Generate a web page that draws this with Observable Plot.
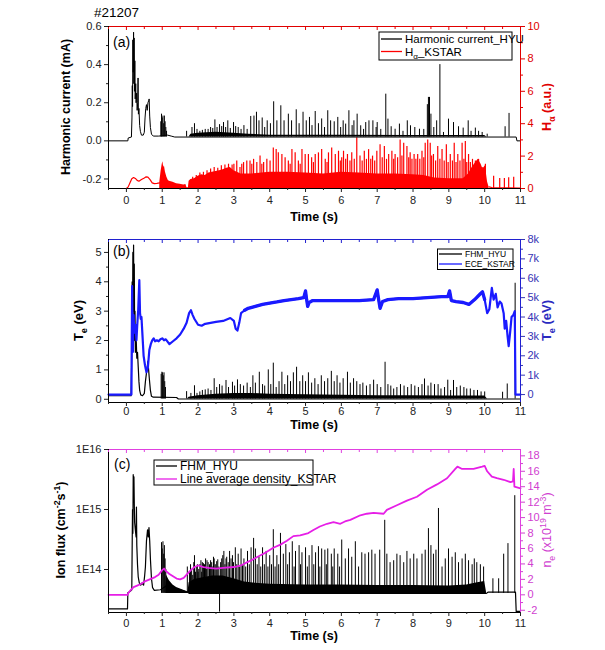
<!DOCTYPE html>
<html><head><meta charset="utf-8">
<script src="https://cdn.jsdelivr.net/npm/d3@7"></script>
<script src="https://cdn.jsdelivr.net/npm/@observablehq/plot@0.6"></script>
<style>
body{margin:0;background:#fff;}
#chart{position:relative;width:605px;height:650px;overflow:hidden;background:#fff;}
#chart svg{display:block;}
</style></head><body><div id="chart"></div>
<script>
const FONT = '"Liberation Sans", Arial, Helvetica, sans-serif';

// ---------- shared x axis ----------
const X_DOMAIN = [-0.5, 11];
const xTicks = [0,1,2,3,4,5,6,7,8,9,10,11];
const xTickLabels = ["0","1","2","3","4","5","6","7","8","9","10","11"];
const xMinor = [-0.5,0.5,1.5,2.5,3.5,4.5,5.5,6.5,7.5,8.5,9.5,10.5];

// ---------- panel (a) ----------
const A_Y = [-0.25, 0.6];             // harmonic current (mA)
const A_R = [0, 10];                  // H-alpha (a.u.)
const ampTicks = [-0.2, 0, 0.2, 0.4, 0.6];
const ampTickLabels = ["-0.2", "0.0", "0.2", "0.4", "0.6"];
const ampMinor = [-0.1, 0.1, 0.3, 0.5];
const haTicks = [0, 2, 4, 6, 8, 10];
const haTickLabels = ["0", "2", "4", "6", "8", "10"];
const haMinor = [1, 3, 5, 7, 9];
const HC_BASE = 0.02;
const hcLine = [[-0.5,0],[0.04,0],[0.05,0.015],[0.14,0.02],[0.155,0.12],[0.165,0.29],[0.172,0.18],[0.18,0.53],[0.19,0.36],[0.2,0.57],[0.208,0.3],[0.215,0.54],[0.225,0.26],[0.235,0.42],[0.245,0.22],[0.26,0.3],[0.27,0.2],[0.285,0.25],[0.3,0.16],[0.315,0.2],[0.325,0.33],[0.335,0.14],[0.35,0.17],[0.37,0.08],[0.39,0.05],[0.42,0.03],[0.47,0.03],[0.5,0.045],[0.52,0.12],[0.54,0.17],[0.56,0.19],[0.58,0.16],[0.6,0.2],[0.62,0.21],[0.635,0.22],[0.65,0.13],[0.67,0.07],[0.7,0.035],[0.75,0.025],[0.9,0.025],[1.15,0.03],[1.25,0.025],[1.35,0.02],[10.88,0.02],[10.9,0],[11,0]];
const hcFill = [[1.75,0.02],[1.8,0.035],[2.0,0.04],[2.5,0.045],[3.0,0.04],[3.4,0.035],[4.0,0.03],[6.0,0.03],[8.0,0.028],[10.0,0.028],[10.06,0.02]];
const hcSpikes = [[0.96,0.1],[0.98,0.14],[1.0,0.12],[1.02,0.13],[1.04,0.09],[1.06,0.13],[1.08,0.1],[1.1,0.07],[1.12,0.05],
[1.68,0.05],[1.83,0.07],[1.9,0.09],[1.97,0.06],[2.05,0.05],[2.12,0.055],[2.2,0.06],[2.28,0.06],[2.35,0.07],[2.41,0.065],[2.47,0.11],[2.53,0.07],[2.6,0.085],[2.66,0.075],[2.71,0.096],[2.77,0.07],[2.83,0.105],[2.9,0.065],[2.99,0.096],[3.05,0.075],[3.12,0.07],[3.2,0.06],[3.28,0.08],[3.37,0.06],[3.47,0.128],[3.56,0.13],[3.63,0.15],[3.7,0.105],[3.79,0.12],[3.86,0.07],[3.93,0.105],[4.02,0.09],[4.11,0.205],[4.2,0.105],[4.31,0.184],[4.4,0.105],[4.52,0.14],[4.61,0.105],[4.74,0.163],[4.82,0.09],[4.93,0.15],[5.02,0.105],[5.11,0.123],[5.18,0.08],[5.27,0.154],[5.36,0.09],[5.45,0.115],[5.53,0.07],[5.62,0.158],[5.7,0.105],[5.8,0.1],[5.9,0.123],[5.98,0.07],[6.05,0.105],[6.12,0.088],[6.21,0.158],[6.3,0.08],[6.35,0.105],[6.44,0.14],[6.54,0.079],[6.62,0.06],[6.68,0.096],[6.77,0.105],[6.88,0.105],[6.97,0.07],[7.0,0.096],[7.1,0.06],[7.24,0.245],[7.3,0.114],[7.39,0.074],[7.5,0.061],[7.62,0.088],[7.72,0.05],[7.84,0.105],[7.93,0.079],[8.05,0.07],[8.18,0.061],[8.3,0.06],[8.4,0.19],[8.43,0.228],[8.46,0.228],[8.5,0.14],[8.58,0.07],[8.66,0.105],[8.75,0.40],[8.85,0.044],[8.99,0.114],[9.13,0.096],[9.27,0.074],[9.4,0.067],[9.54,0.105],[9.62,0.05],[9.74,0.067],[9.83,0.05],[9.93,0.044],[10.07,0.035],[10.57,0.074],[10.68,0.144]];
const haLineEarly = [[-0.5,0],[0.0,0],[0.05,0.1],[0.1,0.35],[0.15,0.6],[0.2,0.68],[0.25,0.62],[0.3,0.5],[0.35,0.45],[0.42,0.55],[0.5,0.65],[0.55,0.72],[0.6,0.7],[0.66,0.55],[0.72,0.35],[0.78,0.3],[0.85,0.32],[0.93,0.35]];
const haLineTail = [[10.12,0.1],[10.2,0.06],[10.5,0.04],[11,0.03]];
const haFill = [[0.93,0.35],[0.97,1.1],[1.0,1.5],[1.02,1.65],[1.04,1.3],[1.06,1.4],[1.09,1.0],[1.13,0.7],[1.17,0.5],[1.2,0.45],[1.3,0.38],[1.4,0.3],[1.5,0.26],[1.6,0.22],[1.66,0.25],[1.69,0.05],[1.73,0.05],[1.75,0.45],[1.8,0.55],[1.9,0.6],[2.0,0.75],[2.1,0.85],[2.2,0.8],[2.3,0.95],[2.4,1.0],[2.5,1.05],[2.6,1.1],[2.7,1.15],[2.8,1.25],[2.9,1.3],[3.0,1.1],[3.2,0.9],[3.5,0.9],[4.0,1.0],[4.5,1.0],[5.0,0.95],[5.5,0.9],[6.0,1.0],[6.5,0.95],[7.0,0.9],[7.5,0.9],[8.0,0.85],[8.3,0.8],[8.6,0.65],[9.0,0.6],[9.4,0.6],[9.55,0.9],[9.65,1.3],[9.75,1.6],[9.82,1.8],[9.9,1.5],[9.95,1.2],[10.02,1.4],[10.08,0.4],[10.12,0.1]];
const haSpikes = [[1.85,0.7],[1.95,0.8],[2.05,0.95],[2.15,1.0],[2.25,1.1],[2.35,1.2],[2.45,1.3],[2.55,1.25],[2.65,1.4],[2.75,1.45],[2.85,1.5],[2.95,1.45],[3.0,1.5],[3.08,1.7],[3.17,1.3],[3.22,1.5],[3.27,1.6],[3.36,1.7],[3.45,1.7],[3.5,1.5],[3.55,1.8],[3.64,1.6],[3.73,2.0],[3.78,1.5],[3.83,1.6],[3.92,1.8],[4.01,1.7],[4.1,2.5],[4.18,2.4],[4.24,2.2],[4.34,2.1],[4.43,1.9],[4.52,1.7],[4.57,1.5],[4.62,2.4],[4.71,2.2],[4.8,1.7],[4.85,1.5],[4.9,2.4],[4.99,2.1],[5.08,2.1],[5.17,1.9],[5.22,1.6],[5.27,2.1],[5.36,2.2],[5.45,2.4],[5.55,1.8],[5.6,1.6],[5.64,2.2],[5.73,2.5],[5.83,2.1],[5.92,2.3],[5.97,1.7],[6.01,1.9],[6.06,2.3],[6.12,1.8],[6.17,2.1],[6.24,1.7],[6.29,2.2],[6.36,1.8],[6.43,3.13],[6.52,2.0],[6.58,1.7],[6.64,2.3],[6.7,1.8],[6.76,2.4],[6.82,1.8],[6.87,2.0],[6.93,1.7],[6.99,2.3],[7.08,2.7],[7.14,1.9],[7.2,2.6],[7.26,1.8],[7.32,2.1],[7.41,2.3],[7.46,1.8],[7.5,2.1],[7.57,1.9],[7.64,3.0],[7.69,2.0],[7.74,2.8],[7.83,2.6],[7.88,1.9],[7.92,2.2],[7.97,1.8],[8.03,2.1],[8.08,1.8],[8.13,2.1],[8.19,1.8],[8.25,2.3],[8.3,1.9],[8.34,2.8],[8.41,3.0],[8.48,2.8],[8.52,2.0],[8.57,2.1],[8.63,1.7],[8.69,2.6],[8.75,1.8],[8.81,2.4],[8.87,1.7],[8.93,2.7],[8.98,1.6],[9.04,2.1],[9.1,1.7],[9.15,2.8],[9.2,1.6],[9.25,2.1],[9.31,1.7],[9.37,2.8],[9.42,1.8],[9.46,2.9],[9.5,1.6],[9.55,2.1],[9.6,1.6],[9.66,1.8],[9.74,1.7],[9.83,1.8],[9.93,1.3],[10.02,1.5],[10.25,0.76],[10.42,0.62],[10.55,0.62],[10.67,0.66],[10.81,0.7]];

// ---------- panel (b) ----------
const B_Y = [-0.11, 5.44];            // Te FHM (eV)
const B_R = [-0.41, 8];               // Te ECE (keV)
const teTicks = [0,1,2,3,4,5];
const teTickLabels = ["0","1","2","3","4","5"];
const teMinor = [0.5,1.5,2.5,3.5,4.5];
const eceTicks = [0,1,2,3,4,5,6,7,8];
const eceTickLabels = ["0","1k","2k","3k","4k","5k","6k","7k","8k"];
const eceMinor = [0.5,1.5,2.5,3.5,4.5,5.5,6.5,7.5];
const FHM_BASE = 0.01;
const fhmLine = [[-0.5,0.12],[0.13,0.12],[0.15,1.5],[0.16,4.0],[0.17,2.5],[0.18,5.0],[0.19,3.0],[0.2,5.25],[0.21,2.8],[0.22,4.6],[0.23,2.0],[0.24,3.0],[0.25,1.6],[0.27,2.2],[0.29,1.4],[0.31,1.6],[0.33,1.1],[0.35,0.6],[0.37,0.3],[0.4,0.15],[0.45,0.12],[0.5,0.2],[0.53,0.6],[0.56,0.9],[0.58,1.1],[0.6,1.3],[0.62,1.0],[0.64,0.7],[0.67,0.3],[0.7,0.1],[0.75,0.07],[1.4,0.06],[1.45,0.01],[10.9,0.01],[11,0.01]];
const fhmFill = [[1.7,0.01],[1.75,0.07],[2.0,0.12],[2.5,0.17],[3.0,0.2],[3.5,0.2],[4.0,0.17],[5.0,0.15],[6.0,0.14],[7.0,0.12],[8.0,0.12],[9.0,0.11],[10.0,0.11],[10.08,0.01]];
const fhmSpikes = [[0.97,0.85],[0.99,0.92],[1.01,0.9],[1.03,0.8],[1.05,0.9],[1.07,0.6],[1.09,0.4],
[1.68,0.26],[1.8,0.2],[1.9,0.46],[1.97,0.2],[2.05,0.25],[2.12,0.3],[2.2,0.32],[2.28,0.35],[2.36,0.3],[2.45,0.7],[2.52,0.4],[2.6,0.5],[2.67,0.45],[2.78,0.64],[2.85,0.4],[2.96,0.58],[3.02,0.45],[3.1,0.66],[3.18,0.5],[3.27,0.45],[3.37,0.55],[3.46,0.4],[3.53,0.8],[3.6,0.55],[3.71,0.92],[3.8,0.5],[3.86,0.45],[3.96,1.0],[4.03,0.5],[4.1,1.23],[4.18,0.4],[4.26,0.6],[4.34,0.92],[4.42,0.5],[4.5,0.8],[4.58,0.6],[4.66,0.9],[4.75,1.09],[4.84,0.6],[4.92,0.8],[5.0,0.6],[5.08,0.9],[5.17,0.55],[5.26,0.7],[5.35,0.5],[5.44,0.8],[5.53,0.6],[5.62,0.7],[5.72,0.95],[5.8,0.6],[5.88,0.8],[5.96,0.55],[6.05,0.7],[6.17,0.92],[6.25,0.55],[6.34,0.7],[6.43,0.6],[6.52,0.5],[6.6,0.55],[6.7,0.45],[6.8,0.5],[6.9,0.65],[7.0,0.5],[7.1,0.4],[7.22,1.26],[7.3,0.5],[7.38,0.45],[7.46,0.35],[7.55,0.4],[7.65,0.5],[7.75,0.45],[7.85,0.4],[7.95,0.5],[8.05,0.45],[8.15,0.4],[8.25,0.5],[8.32,0.69],[8.42,0.45],[8.5,0.55],[8.6,0.5],[8.7,0.5],[8.78,0.35],[8.88,0.4],[8.97,0.65],[9.05,0.3],[9.13,0.64],[9.22,0.4],[9.32,0.45],[9.42,0.4],[9.5,0.35],[9.6,0.35],[9.7,0.3],[9.8,0.3],[9.9,0.25],[10.0,0.25],[10.5,0.24],[10.63,0.52],[10.85,3.95]];
const eceLine = [[-0.5,0],[0.14,0],[0.15,3.0],[0.16,5.6],[0.17,3.5],[0.18,2.2],[0.2,4.1],[0.22,3.2],[0.25,3.6],[0.28,2.8],[0.3,3.5],[0.33,4.4],[0.36,5.9],[0.38,4.2],[0.4,3.9],[0.42,4.0],[0.45,3.0],[0.48,2.0],[0.52,1.5],[0.56,1.15],[0.6,1.4],[0.64,2.3],[0.68,2.6],[0.72,2.8],[0.76,2.9],[0.8,2.75],[0.85,2.8],[0.9,2.75],[0.95,2.85],[1.0,2.9],[1.05,2.8],[1.1,2.85],[1.2,2.6],[1.3,2.75],[1.4,2.9],[1.5,3.1],[1.6,3.4],[1.68,3.7],[1.75,4.2],[1.8,4.35],[1.85,4.1],[1.9,3.9],[2.0,3.6],[2.1,3.55],[2.2,3.65],[2.35,3.7],[2.5,3.75],[2.7,3.8],[2.9,3.95],[3.0,3.8],[3.05,3.4],[3.1,3.3],[3.15,3.7],[3.2,4.2],[3.3,4.35],[3.4,4.45],[3.6,4.55],[3.8,4.65],[4.0,4.72],[4.2,4.78],[4.4,4.85],[4.6,4.9],[4.8,4.95],[4.95,5.0],[5.0,5.35],[5.03,4.9],[5.06,4.55],[5.1,4.75],[5.2,4.85],[5.5,4.85],[6.0,4.85],[6.5,4.85],[6.9,4.9],[7.0,5.4],[7.04,4.9],[7.08,4.45],[7.15,4.8],[7.3,4.9],[7.6,4.95],[8.0,4.95],[8.4,5.0],[8.8,5.05],[8.97,5.05],[9.02,5.35],[9.07,4.85],[9.2,4.8],[9.4,4.75],[9.56,4.65],[9.72,4.9],[9.88,5.2],[9.94,5.3],[10.0,4.9],[10.07,4.2],[10.13,4.4],[10.2,5.5],[10.25,4.9],[10.31,5.2],[10.36,4.5],[10.42,4.8],[10.47,4.7],[10.53,4.2],[10.56,3.4],[10.6,3.8],[10.64,3.0],[10.67,2.5],[10.71,3.2],[10.75,4.0],[10.8,4.1],[10.84,4.3],[10.86,0],[11,0]];

// ---------- panel (c) ----------
const C_Y = [1.92e13, 1e16];          // ion flux (log axis)
const C_R = [-2.29, 18.82];           // ne (1e19 m^-3)
const fluxTicks = [1e14, 1e15, 1e16];
const fluxTickLabels = ["1E14", "1E15", "1E16"];
const neTicks = [-2,0,2,4,6,8,10,12,14,16,18];
const neTickLabels = ["-2","0","2","4","6","8","10","12","14","16","18"];
const neMinor = [-1,1,3,5,7,9,11,13,15,17];
const FLUX_BASE = 4e13;
const fluxLine = [[-0.5,2.2e13],[0.03,2.2e13],[0.04,4.1e13],[0.1,4.3e13],[0.15,4.6e13],[0.17,1e15],[0.18,4e14],[0.19,3.8e15],[0.2,2.5e15],[0.21,3.5e15],[0.22,1.2e15],[0.23,6e14],[0.25,4.5e14],[0.27,3.5e14],[0.28,1.1e15],[0.29,2.5e14],[0.31,1.2e14],[0.33,7.5e13],[0.36,6e13],[0.4,5.5e13],[0.44,6e13],[0.48,5.5e13],[0.51,8e13],[0.53,1.1e14],[0.56,3e14],[0.59,4.6e14],[0.61,3.5e14],[0.63,5e14],[0.65,3e14],[0.67,1.5e14],[0.7,7e13],[0.73,5e13],[0.78,4.5e13],[0.95,4.6e13],[1.15,5.5e13],[1.3,5e13],[1.5,4.6e13],[1.7,4.2e13],[1.75,4e13],[10.05,4e13],[10.1,4.2e13],[10.86,4.2e13],[10.88,2e13],[11,2e13]];
const fluxFill = [[1.1,5e13],[1.12,8e13],[1.2,6.5e13],[1.3,5.5e13],[1.4,5e13],[1.72,4.2e13],[1.75,6e13],[1.9,6.8e13],[2.1,7.2e13],[2.4,7.8e13],[2.7,7.8e13],[3.0,7e13],[3.3,6.2e13],[3.6,5.9e13],[4.0,5.7e13],[5.0,5.5e13],[6.0,5.5e13],[7.0,5.4e13],[8.0,5.4e13],[9.0,5.3e13],[9.5,5.5e13],[9.8,6e13],[10.0,6.3e13],[10.05,4.2e13]];
const fluxSpikes = [[0.98,2.8e14],[1.0,2.2e14],[1.02,2.9e14],[1.04,1.8e14],[1.06,2.5e14],[1.08,1.5e14],[1.1,1e14],
[1.7,1.1e14],[1.76,9e13],[1.79,1.2e14],[1.82,1.0e14],[1.85,8e13],[1.88,1.3e14],[1.9,1.7e14],[1.93,9e13],[1.95,1.1e14],[1.98,1.2e14],[2.0,9e13],[2.02,1.0e14],[2.05,1.2e14],[2.08,1.4e14],[2.1,9e13],[2.12,1.3e14],[2.15,1.25e14],[2.18,1.2e14],[2.21,1.5e14],[2.23,1e14],[2.25,1.4e14],[2.28,1.3e14],[2.32,1.2e14],[2.35,1.4e14],[2.38,1.3e14],[2.41,1.1e14],[2.43,1.6e14],[2.45,1.5e14],[2.48,1.2e14],[2.52,1.35e14],[2.55,1.45e14],[2.58,1.1e14],[2.6,1.95e13],[2.63,1.3e14],[2.66,1.5e14],[2.69,1.7e14],[2.72,2e14],[2.75,1.2e14],[2.78,1.5e14],[2.8,1.6e14],[2.84,1.3e14],[2.88,2e14],[2.92,1.5e14],[2.96,1.7e14],[2.99,1.3e14],[3.04,2.3e14],[3.08,1.2e14],[3.12,1.8e14],[3.16,1.1e14],[3.2,2.2e14],[3.24,1.2e14],[3.28,1.5e14],[3.33,1.1e14],[3.38,2.0e14],[3.43,1.2e14],[3.48,2.3e14],[3.55,3.3e14],[3.6,2.2e14],[3.65,1.2e14],[3.7,1.6e14],[3.75,1.1e14],[3.8,2.3e14],[3.85,1.2e14],[3.9,2e14],[3.95,1.1e14],[4.0,1.7e14],[4.05,1.2e14],[4.1,4.6e14],[4.15,1.1e14],[4.2,1.7e14],[4.25,1.2e14],[4.3,4e14],[4.38,1.8e14],[4.45,2.6e14],[4.5,1.2e14],[4.55,1.9e14],[4.63,2.9e14],[4.68,1.1e14],[4.72,2e14],[4.82,2.5e14],[4.86,1.2e14],[4.9,1.9e14],[5.0,2.3e14],[5.05,1.1e14],[5.1,1.7e14],[5.18,2.5e14],[5.23,1.2e14],[5.28,1.9e14],[5.36,2.4e14],[5.4,1.1e14],[5.45,2.2e14],[5.54,2.1e14],[5.58,1.2e14],[5.62,2.2e14],[5.72,1.8e14],[5.76,1.1e14],[5.8,2.2e14],[5.9,1.8e14],[5.95,1.1e14],
[6.01,3.1e14],[6.11,1.5e14],[6.2,2.2e14],[6.29,1.6e14],[6.39,2.9e14],[6.48,1.1e14],[6.57,1.9e14],[6.66,1.8e14],[6.76,1.9e14],[6.85,2.1e14],[6.94,1.8e14],[7.07,2.1e14],[7.21,6.6e14],[7.27,1.8e14],[7.36,1.3e14],[7.46,1.4e14],[7.55,1.8e14],[7.64,1.7e14],[7.74,1.3e14],[7.83,2e14],[7.92,1.5e14],[8.02,1.8e14],[8.11,1.5e14],[8.25,1.8e14],[8.34,2.1e14],[8.43,4.8e14],[8.5,2.5e14],[8.57,1.8e14],[8.64,2.1e14],[8.71,1.04e15],[8.81,1.1e14],[8.9,1.5e14],[8.99,2.2e14],[9.09,1.6e14],[9.18,1.9e14],[9.27,1.3e14],[9.37,1.5e14],[9.46,1.8e14],[9.55,1.4e14],[9.65,1.2e14],[9.71,1.5e14],[9.78,1.3e14],[9.88,1.2e14],[9.97,1.1e14],[10.23,7e13],[10.39,7e13],[10.53,1.8e14],[10.65,2.7e14],[10.84,1.7e15]];
const neLine = [[-0.5,0],[0.03,0],[0.05,0.2],[0.1,0.5],[0.2,1.0],[0.3,1.2],[0.4,1.4],[0.5,1.7],[0.6,1.9],[0.7,2.1],[0.8,2.3],[0.9,2.6],[1.0,3.2],[1.05,3.4],[1.1,3.1],[1.2,2.7],[1.3,2.4],[1.4,2.1],[1.5,2.0],[1.6,2.2],[1.7,2.7],[1.8,3.2],[1.9,3.6],[2.0,3.8],[2.15,3.6],[2.3,3.5],[2.5,3.4],[2.7,3.5],[3.0,3.6],[3.2,3.8],[3.36,4.2],[3.5,4.5],[3.73,5.1],[3.9,5.5],[4.1,6.1],[4.3,6.5],[4.48,7.0],[4.66,7.6],[4.85,7.7],[5.08,8.0],[5.22,8.4],[5.4,8.85],[5.6,9.2],[5.78,9.4],[5.97,9.2],[6.1,9.5],[6.25,9.7],[6.53,10.3],[6.71,10.5],[6.9,10.6],[7.18,10.5],[7.27,11.0],[7.55,11.6],[7.83,12.2],[8.11,12.7],[8.39,13.6],[8.67,14.3],[8.95,15.1],[9.18,16.3],[9.24,16.6],[9.37,16.3],[9.69,16.3],[9.93,16.6],[10.0,16.7],[10.07,16.0],[10.2,15.3],[10.34,15.1],[10.53,14.9],[10.72,14.6],[10.79,14.7],[10.81,16.3],[10.83,14.0],[11,13.8]];

// ---------- helpers ----------
const lin = (D, R) => v => D[0] + (v - R[0]) / (R[1] - R[0]) * (D[1] - D[0]);
const L10 = Math.log10;
const C_LOG = [L10(C_Y[0]), L10(C_Y[1])];   // panel (c) plotted as log10 on a linear scale
const aMap = lin(A_Y, A_R), bMap = lin(B_Y, B_R), cMap = lin(C_LOG, C_R);
const lookup = (vals, labels) => d => { const i = vals.findIndex(v => Math.abs(v - d) < 1e-7); return i < 0 ? "" : labels[i]; };

function frame(yDom, color, pad = 3) {
  return [
    Plot.ruleY([yDom[1]], {stroke: color, strokeWidth: 1}),
    Plot.ruleX([X_DOMAIN[1]], {stroke: color, strokeWidth: 1}),
    Plot.ruleX([X_DOMAIN[0]], {stroke: "#000", strokeWidth: 1}),
    Plot.ruleY([yDom[0]], {stroke: "#000", strokeWidth: 1}),
    Plot.axisX(xTicks, {anchor: "bottom", tickSize: 4, tickPadding: pad, tickFormat: lookup(xTicks, xTickLabels), label: null, color: "#222"}),
    Plot.axisX(xMinor, {anchor: "bottom", tickSize: 2, tickFormat: () => "", label: null, color: "#222"}),
    Plot.axisX(xTicks, {anchor: "top", tickSize: -3, tickFormat: () => "", label: null, color}),
    Plot.axisX(xMinor, {anchor: "top", tickSize: -2, tickFormat: () => "", label: null, color})
  ];
}
function leftAxis(ticks, labels, minor) {
  const m = [Plot.axisY(ticks, {anchor: "left", tickSize: 4, tickPadding: 3, tickFormat: lookup(ticks, labels), label: null, color: "#222"})];
  if (minor) m.push(Plot.axisY(minor, {anchor: "left", tickSize: 2, tickFormat: () => "", label: null, color: "#222"}));
  return m;
}
function rightAxis(pos, labels, minorPos, color) {
  return [
    Plot.axisY(pos, {anchor: "right", tickSize: 4, tickPadding: 3, tickFormat: lookup(pos, labels), label: null, color}),
    Plot.axisY(minorPos, {anchor: "right", tickSize: 2, tickFormat: () => "", label: null, color})
  ];
}
function addParts(t, parts, size) {
  let shift = 0;
  for (const [s, kind] of parts) {
    const target = kind === "sub" ? size * 0.3 : kind === "sup" ? -size * 0.4 : 0;
    const ts = t.append("tspan").text(s).attr("dy", target - shift);
    if (kind) ts.attr("font-size", size * 0.7);
    shift = target;
  }
}
function rich(svg, x, y, parts, {size = 12, weight = "bold", fill = "#000", rotate = 0, anchor = "middle"} = {}) {
  const t = d3.select(svg).append("text")
    .attr("transform", `translate(${x},${y})` + (rotate ? ` rotate(${rotate})` : ""))
    .attr("text-anchor", anchor).attr("font-family", FONT).attr("font-size", size)
    .attr("font-weight", weight).attr("fill", fill);
  addParts(t, parts, size);
}
function legend(svg, x, y, w, h, rows, {size = 12, lineLen = 21, rowGap = 12.5, pad = 2, first = 7} = {}) {
  const g = d3.select(svg).append("g");
  g.append("rect").attr("x", x).attr("y", y).attr("width", w).attr("height", h).attr("fill", "#fff").attr("stroke", "#000").attr("stroke-width", 1);
  rows.forEach((r, i) => {
    const yy = y + first + i * rowGap;
    g.append("line").attr("x1", x + pad).attr("x2", x + pad + lineLen).attr("y1", yy).attr("y2", yy).attr("stroke", r.color).attr("stroke-width", 1.3);
    const t = g.append("text").attr("x", x + pad + lineLen + 3).attr("y", yy + size * 0.36)
      .attr("text-anchor", "start").attr("font-family", FONT).attr("font-size", size).attr("fill", "#000");
    addParts(t, r.parts, size);
  });
}
const XY = {x: d => d[0]};
const base = {width: 605, marginLeft: 108, marginRight: 85, x: {domain: X_DOMAIN, axis: null},
  style: {fontFamily: FONT, fontSize: "11px", background: "#fff", overflow: "visible"}};

const chart = document.getElementById("chart");

// ===== panel (a) =====
const RED = "#ff0000";
const svgA = Plot.plot({...base, height: 226, marginTop: 26, marginBottom: 38,
  y: {domain: A_Y, axis: null},
  marks: [
    Plot.areaY(haFill, {...XY, y1: aMap(0), y2: d => aMap(d[1]), fill: RED}),
    Plot.ruleX(haSpikes, {...XY, y1: aMap(0), y2: d => aMap(d[1]), stroke: RED, strokeWidth: 1.2}),
    Plot.line(haLineEarly, {...XY, y: d => aMap(d[1]), stroke: RED, strokeWidth: 1.2}),
    Plot.line(haLineTail, {...XY, y: d => aMap(d[1]), stroke: RED, strokeWidth: 1.2}),
    Plot.areaY(hcFill, {...XY, y1: HC_BASE, y2: d => d[1], fill: "#000"}),
    Plot.ruleX(hcSpikes, {...XY, y1: HC_BASE, y2: d => d[1], stroke: "#000", strokeWidth: 1}),
    Plot.line(hcLine, {...XY, y: d => d[1], stroke: "#000", strokeWidth: 1}),
    ...frame(A_Y, "#e00000", 4),
    ...leftAxis(ampTicks, ampTickLabels, ampMinor),
    ...rightAxis(haTicks.map(aMap), haTickLabels, haMinor.map(aMap), "#e00000")
  ]});
chart.appendChild(svgA);
rich(svgA, 94, 17, [["#21207"]], {size: 13.5, weight: "normal", anchor: "start"});
rich(svgA, 113, 47, [["(a)"]], {size: 14, weight: "normal", anchor: "start"});
rich(svgA, 70, 107, [["Harmonic current (mA)"]], {size: 12.5, rotate: -90});
rich(svgA, 551, 107, [["H"], ["\u03b1", "sub"], [" (a.u.)"]], {size: 12.5, rotate: -90, fill: "#e00000"});
rich(svgA, 314, 221, [["Time (s)"]], {size: 12.5});
legend(svgA, 379, 32, 133, 28, [
  {color: "#000", parts: [["Harmonic current_HYU"]]},
  {color: RED, parts: [["H"], ["\u03b1", "sub"], ["_KSTAR"]]}
], {size: 11.5, lineLen: 21, rowGap: 12.5, first: 7});

// ===== panel (b) =====
const BLUE = "#1a1aff";
const svgB = Plot.plot({...base, height: 206, marginTop: 13, marginBottom: 30,
  y: {domain: B_Y, axis: null},
  marks: [
    Plot.areaY(fhmFill, {...XY, y1: FHM_BASE, y2: d => d[1], fill: "#000"}),
    Plot.ruleX(fhmSpikes, {...XY, y1: FHM_BASE, y2: d => d[1], stroke: "#000", strokeWidth: 1}),
    Plot.line(fhmLine, {...XY, y: d => d[1], stroke: "#000", strokeWidth: 1.2}),
    Plot.line(eceLine, {...XY, y: d => bMap(d[1]), stroke: BLUE, strokeWidth: 2.2}),
    Plot.line(eceLine.filter(d => d[0] >= 3.25 && d[0] <= 10.0), {...XY, y: d => bMap(d[1]), stroke: BLUE, strokeWidth: 3.3}),
    ...frame(B_Y, "#2020d0", 1),
    ...leftAxis(teTicks, teTickLabels, teMinor),
    ...rightAxis(eceTicks.map(bMap), eceTickLabels, eceMinor.map(bMap), "#3535b5")
  ]});
chart.appendChild(svgB);
rich(svgB, 113, 30, [["(b)"]], {size: 14, weight: "normal", anchor: "start"});
rich(svgB, 83, 94.5, [["T"], ["e", "sub"], [" (eV)"]], {size: 13, rotate: -90});
rich(svgB, 551, 94.5, [["T"], ["e", "sub"], [" (eV)"]], {size: 13, rotate: -90, fill: "#2a2ac0"});
rich(svgB, 314, 203, [["Time (s)"]], {size: 12.5});
legend(svgB, 437.5, 23, 75.5, 20.5, [
  {color: "#000", parts: [["FHM_HYU"]]},
  {color: BLUE, parts: [["ECE_KSTAR"]]}
], {size: 8.5, lineLen: 23, rowGap: 10, first: 5, pad: 1.5});

// ===== panel (c) =====
const MAG = "#e61ee6";
const svgC = Plot.plot({...base, height: 218, marginTop: 17, marginBottom: 38,
  y: {domain: C_LOG, axis: null},
  marks: [
    Plot.areaY(fluxFill, {...XY, y1: L10(FLUX_BASE), y2: d => L10(d[1]), fill: "#000"}),
    Plot.ruleX(fluxSpikes, {...XY, y1: L10(FLUX_BASE), y2: d => L10(d[1]), stroke: "#000", strokeWidth: 1}),
    Plot.line(fluxLine, {...XY, y: d => L10(d[1]), stroke: "#000", strokeWidth: 1.2}),
    Plot.line(neLine, {...XY, y: d => cMap(d[1]), stroke: MAG, strokeWidth: 1.8}),
    ...frame(C_LOG, "#e040e0", 3),
    ...leftAxis(fluxTicks.map(L10), fluxTickLabels, null),
    ...rightAxis(neTicks.map(cMap), neTickLabels, neMinor.map(cMap), "#d040d0")
  ]});
chart.appendChild(svgC);
rich(svgC, 114, 37, [["(c)"]], {size: 14, weight: "normal", anchor: "start"});
rich(svgC, 65, 98, [["Ion flux (cm"], ["-2", "sup"], ["s"], ["-1", "sup"], [")"]], {size: 12.5, rotate: -90});
rich(svgC, 551, 98, [["n"], ["e", "sub"], [" (x10"], ["19", "sup"], [" m"], ["-3", "sup"], [")"]], {size: 12.5, rotate: -90, fill: "#d040d0", weight: "normal"});
rich(svgC, 314, 208, [["Time (s)"]], {size: 12.5});
legend(svgC, 154, 28, 159, 25, [
  {color: "#000", parts: [["FHM_HYU"]]},
  {color: MAG, parts: [["Line average density_KSTAR"]]}
], {size: 12, lineLen: 21, rowGap: 13, first: 6});
</script></body></html>
